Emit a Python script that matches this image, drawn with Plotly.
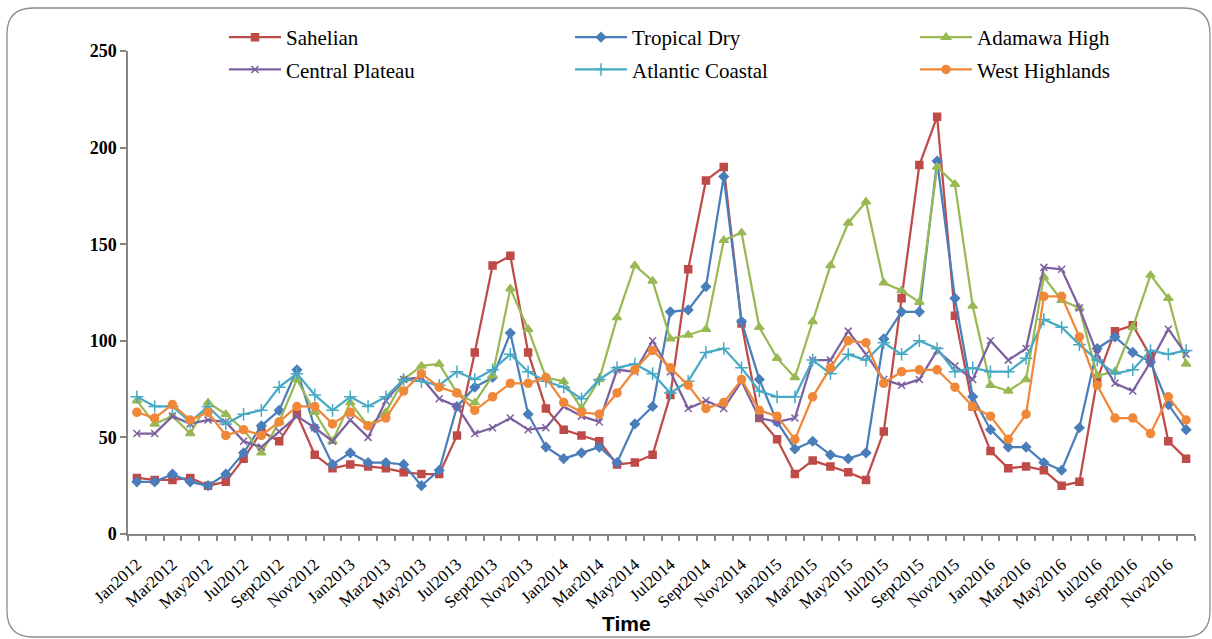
import plotly.graph_objects as go

months = ["Jan", "Feb", "Mar", "Apr", "May", "Jun", "Jul", "Aug", "Sept", "Oct", "Nov", "Dec"]
years = [2012, 2013, 2014, 2015, 2016]
time_labels = [f"{m}{y}" for y in years for m in months]

sahelian = [29, 28, 28, 29, 25, 27, 39, 53, 48, 62, 41, 34,
            36, 35, 34, 32, 31, 31, 51, 94, 139, 144, 94, 65,
            54, 51, 48, 36, 37, 41, 72, 137, 183, 190, 109, 60,
            49, 31, 38, 35, 32, 28, 53, 122, 191, 216, 113, 66,
            43, 34, 35, 33, 25, 27, 80, 105, 108, 92, 48, 39]
tropical_dry = [27, 27, 31, 27, 25, 31, 42, 56, 64, 85, 55, 36,
                42, 37, 37, 36, 25, 33, 66, 76, 81, 104, 62, 45,
                39, 42, 45, 37, 57, 66, 115, 116, 128, 185, 110, 80,
                58, 44, 48, 41, 39, 42, 101, 115, 115, 193, 122, 71,
                54, 45, 45, 37, 33, 55, 96, 102, 94, 89, 67, 54]
adamawa_high = [69, 57, 61, 52, 68, 62, 54, 42, 58, 80, 63, 48,
                68, 56, 63, 80, 87, 88, 73, 68, 82, 127, 106, 81,
                79, 65, 80, 112, 139, 131, 101, 103, 106, 152, 156, 107,
                91, 81, 110, 139, 161, 172, 130, 126, 120, 190, 181, 118,
                77, 74, 80, 133, 121, 117, 82, 84, 107, 134, 122, 88]
central_plateau = [52, 52, 61, 57, 59, 58, 48, 45, 53, 61, 55, 48,
                   59, 50, 69, 80, 81, 70, 66, 52, 55, 60, 54, 55,
                   66, 61, 58, 85, 84, 100, 84, 65, 69, 65, 79, 60,
                   58, 60, 90, 90, 105, 93, 80, 77, 80, 95, 87, 80,
                   100, 90, 96, 138, 137, 117, 93, 78, 74, 89, 106, 93]
atlantic_coastal = [71, 66, 66, 58, 66, 57, 62, 64, 76, 83, 72, 64,
                    71, 66, 71, 80, 79, 77, 84, 80, 85, 93, 84, 79,
                    76, 70, 80, 86, 88, 83, 73, 79, 94, 96, 86, 74,
                    71, 71, 90, 83, 93, 90, 99, 93, 100, 96, 84, 86,
                    84, 84, 91, 111, 107, 98, 90, 83, 85, 95, 93, 95]
west_highlands = [63, 60, 67, 59, 63, 51, 54, 51, 58, 66, 66, 57,
                  63, 56, 60, 74, 83, 76, 73, 64, 71, 78, 78, 81,
                  68, 63, 62, 73, 85, 95, 86, 77, 65, 68, 80, 64,
                  61, 49, 71, 86, 100, 99, 78, 84, 85, 85, 76, 66,
                  61, 49, 62, 123, 123, 102, 77, 60, 60, 52, 71, 59]

series_names = ["Sahelian", "Tropical Dry", "Adamawa High",
                "Central Plateau", "Atlantic Coastal", "West Highlands"]
series_values = [sahelian, tropical_dry, adamawa_high,
                 central_plateau, atlantic_coastal, west_highlands]
colors = ["#BE4B48", "#4A7EBB", "#98B954", "#7D60A0", "#46AAC5", "#F0883A"]
symbols = ["square", "diamond", "triangle-up", "x-thin", "cross-thin", "circle"]
sizes = [7, 7, 8, 7, 9, 8]
legend_ids = ["legend", "legend2", "legend3", "legend", "legend2", "legend3"]

x_idx = list(range(len(time_labels)))

SERIF = "Liberation Serif, Times New Roman, serif"

fig = go.Figure()
for k, (name, vals, col, sym, sz, lg) in enumerate(
        zip(series_names, series_values, colors, symbols, sizes, legend_ids)):
    fig.add_trace(go.Scatter(
        x=x_idx, y=vals, name=name, mode="lines+markers",
        line=dict(color=col, width=2.25),
        marker=dict(symbol=sym, size=sz, color=col,
                    line=dict(color=col, width=1.5)),
        legend=lg, legendgroup=name,
    ))

W, H = 1212, 639
L, R, T, B = 128, 17, 51, 105
pw, ph = W - L - R, H - T - B

def px(xp):
    return (xp - L) / pw

def py(yp):
    return (H - B - yp) / ph

# rounded outer border
x0, x1, y0, y1, r = 7, 1210, 8, 637, 26
path = (f"M {px(x0 + r)},{py(y0)} L {px(x1 - r)},{py(y0)} "
        f"Q {px(x1)},{py(y0)} {px(x1)},{py(y0 + r)} "
        f"L {px(x1)},{py(y1 - r)} Q {px(x1)},{py(y1)} {px(x1 - r)},{py(y1)} "
        f"L {px(x0 + r)},{py(y1)} Q {px(x0)},{py(y1)} {px(x0)},{py(y1 - r)} "
        f"L {px(x0)},{py(y0 + r)} Q {px(x0)},{py(y0)} {px(x0 + r)},{py(y0)} Z")
fig.add_shape(type="path", path=path, xref="paper", yref="paper",
              line=dict(color="#8C8C8C", width=1.3), layer="below")

tick_idx = x_idx[::2]
tick_text = time_labels[::2]

def legend_at(xpix):
    return dict(orientation="v", x=px(xpix), y=py(17), xanchor="left", yanchor="top",
                font=dict(family=SERIF, size=21, color="black"),
                bgcolor="rgba(0,0,0,0)", itemwidth=52, tracegroupgap=2)

fig.update_layout(
    width=W, height=H,
    margin=dict(l=L, r=R, t=T, b=B),
    paper_bgcolor="white", plot_bgcolor="white",
    font=dict(family=SERIF, color="black"),
    showlegend=True,
    legend=legend_at(224),
    legend2=legend_at(570),
    legend3=legend_at(915),
    xaxis=dict(range=[-0.5, len(time_labels) - 0.5], tickmode="array",
               tickvals=tick_idx, ticktext=tick_text, tickangle=-42,
               ticks="outside", ticklen=12, tickcolor="rgba(0,0,0,0)",
               showline=True, linecolor="#868686", linewidth=1.5,
               showgrid=False, zeroline=False,
               tickfont=dict(family=SERIF, size=17, color="black"),
               minor=dict(tickmode="array",
                          tickvals=[i - 0.5 for i in range(len(time_labels) + 1)],
                          ticks="outside", ticklen=5, tickcolor="#868686",
                          tickwidth=1.5, showgrid=False)),
    yaxis=dict(range=[0, 250], tickmode="linear", tick0=0, dtick=50,
               ticks="outside", ticklen=6, tickcolor="#868686", tickwidth=1.5,
               showline=True, linecolor="#868686", linewidth=1.5,
               showgrid=False, zeroline=False,
               tickfont=dict(family=SERIF, size=18, color="black",
                             weight="bold")),
    annotations=[dict(text="<b>Time</b>", x=px(626), y=py(623), xref="paper", yref="paper",
                      showarrow=False, xanchor="center", yanchor="middle",
                      font=dict(family="Liberation Sans", size=21, color="black"))],
)

fig.write_html("out.html")
